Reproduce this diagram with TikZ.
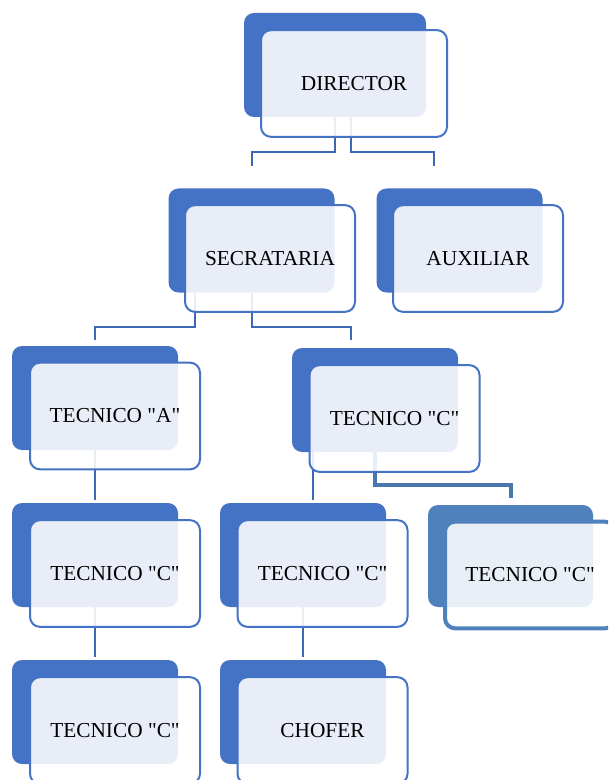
\documentclass[tikz,border=0pt]{standalone}
\usepackage{fontspec}
\setmainfont{Liberation Serif}[Ligatures=TeXOff]
\usepackage{xcolor}
\usepackage{tikz}
\usetikzlibrary{positioning, calc}
\definecolor{orgblue}{HTML}{4472C4}
\definecolor{orgline}{HTML}{3F68B4}
\definecolor{orgsteel}{HTML}{4F81BD}
\definecolor{orgdark}{HTML}{4A76AE}
\tikzset{
	backbox/.style={fill=orgblue, rounded corners=7.5pt, inner sep=0pt, minimum width=124.5pt, minimum height=78pt},
	frontbox/.style={draw=orgblue, line width=1.5pt, fill=white, fill opacity=0.88, text opacity=1, rounded corners=7.5pt, inner sep=0pt, minimum width=127.5pt, minimum height=80pt, font=\fontsize{16}{19}\selectfont},
	link/.style={draw=orgline, line width=1.5pt},
}

\begin{document}
\begin{tikzpicture}[x=0.75pt, y=-0.75pt]
	\clip (0,0) rectangle (608,780);
	
	\node[backbox, minimum width=136.5pt] (dirback) at (335,65) {};
	\node[backbox] (secback) at (251.5,240.5) {};
	\node[backbox] (auxback) at (459.5,240.5) {};
	\node[backbox] (taback) at (95,398) {};
	\node[backbox] (tcback) at (375,400) {};
	\node[backbox] (tc1back) at (95,555) {};
	\node[backbox] (tc2back) at (303,555) {};
	\node[backbox, fill=orgsteel, minimum width=123.75pt, minimum height=76.5pt] (tc3back) at (510.5,556) {};
	\node[backbox] (tc4back) at (95,712) {};
	\node[backbox] (choback) at (303,712) {};
	
	\coordinate (secin) at (252,166);
	\coordinate (auxin) at (434,166);
	\coordinate (secout) at (195,293);
	\coordinate (tain) at (95,340);
	\coordinate (tcin) at (351,340);
	\coordinate (tcout) at (313,452);
	\coordinate (tc1in) at (95,500);
	\coordinate (tc2in) at (313,500);
	\coordinate (tc3in) at (511,498);
	\coordinate (tc4in) at (95,657);
	\coordinate (choin) at (303,657);
	
	\draw[link] (dirback.south) -- ++(0,35) -| (secin);
	\draw[link] ([xshift=12pt]dirback.south) -- ++(0,35) -| (auxin);
	\draw[link] (secout) -- ++(0,34) -| (tain);
	\draw[link] (secback.south) -- ++(0,34) -| (tcin);
	\draw[link] (taback.south) -- (tc1in);
	\draw[link] (tcout) -- (tc2in);
	\draw[link, draw=orgdark, line width=3pt] (tcback.south) -- ++(0,33) -| (tc3in);
	\draw[link] (tc1back.south) -- (tc4in);
	\draw[link] (tc2back.south) -- (choin);
	
	\node[frontbox, minimum width=139.5pt] (dir) at (354,83.5) {DIRECTOR};
	\node[frontbox] (sec) at (270,258.5) {SECRATARIA};
	\node[frontbox] (aux) at (478,258.5) {AUXILIAR};
	\node[frontbox] (ta) at (115,416) {TECNICO "A"};
	\node[frontbox] (tc) at (394.5,418.5) {TECNICO "C"};
	\node[frontbox] (tc1) at (115,573.5) {TECNICO "C"};
	\node[frontbox] (tc2) at (322.5,573.5) {TECNICO "C"};
	\node[frontbox, draw=orgsteel, line width=3pt] (tc3) at (530,575) {TECNICO "C"};
	\node[frontbox] (tc4) at (115,730.5) {TECNICO "C"};
	\node[frontbox] (cho) at (322.5,730.5) {CHOFER};
\end{tikzpicture}
\end{document}
